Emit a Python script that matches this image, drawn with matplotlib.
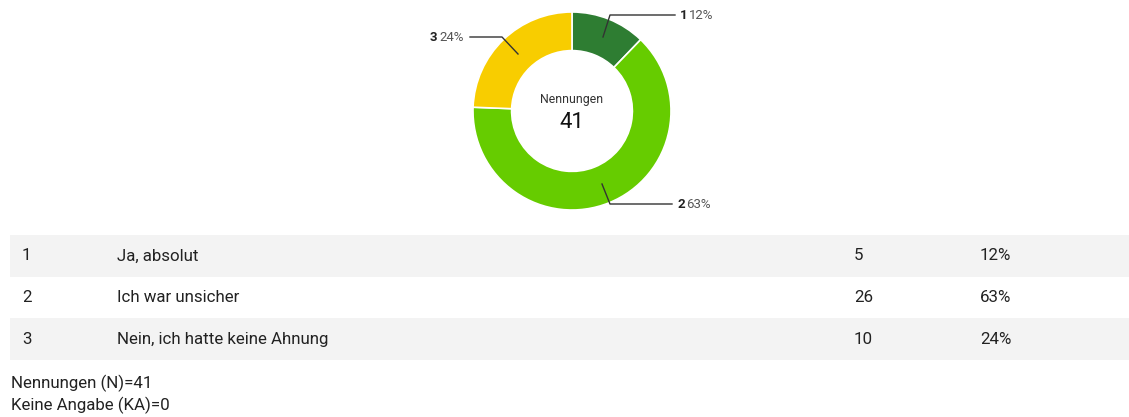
import matplotlib.pyplot as plt

# data
codes = ['1', '2', '3']
answers = ['Ja, absolut', 'Ich war unsicher', 'Nein, ich hatte keine Ahnung']
counts = [5, 26, 10]
percents = ['12%', '63%', '24%']
colors = ['#2e7d32', '#66cc00', '#f8cd00']
n_total = 41
n_none = 0

plt.rcParams['font.family'] = ['Roboto', 'DejaVu Sans']

W, H = 1129, 417
fig = plt.figure(figsize=(W / 100, H / 100), dpi=100)

# background axes in pixel coordinates
bg = fig.add_axes([0, 0, 1, 1])
bg.set_xlim(0, W)
bg.set_ylim(H, 0)
bg.axis('off')

# donut
cx, cy, r = 572, 111, 99
pie_ax = fig.add_axes([(cx - r) / W, 1 - (cy + r) / H, 2 * r / W, 2 * r / H])
wedges, _ = pie_ax.pie(counts, colors=colors, startangle=90, counterclock=False,
                       radius=1, wedgeprops=dict(width=0.39, edgecolor='white', linewidth=1.2))
pie_ax.set_xlim(-1, 1)
pie_ax.set_ylim(-1, 1)
pie_ax.set_aspect('equal')
pie_ax.axis('off')

pie_ax.text(0, 0.12, 'Nennungen', ha='center', va='center', fontsize=8.8, color='#333333')
pie_ax.text(0, -0.12, str(n_total), ha='center', va='center', fontsize=16, color='#111111')

# overlay for leader lines (on top of the donut)
top = fig.add_axes([0, 0, 1, 1])
top.set_xlim(0, W)
top.set_ylim(H, 0)
top.axis('off')

leaders = [
    [(603, 37), (610, 15), (675, 15)],
    [(602, 184), (610, 204), (672, 204)],
    [(518, 54), (502, 37), (470, 37)],
]
label_pos = [(680, 15), (677, 204), (430, 37)]
for i, pts in enumerate(leaders):
    xs = [p[0] for p in pts]
    ys = [p[1] for p in pts]
    top.plot(xs, ys, color='#333333', lw=1.0)
    x, y = label_pos[i]
    top.text(x, y, codes[i], ha='left', va='center', fontsize=9.5, fontweight='bold', color='#222222')
    top.text(x + 9, y, percents[i], ha='left', va='center', fontsize=9.5, color='#555555')

# table
row_top = 235
row_h = 41.7
for i in range(len(codes)):
    y0 = row_top + i * row_h
    if i % 2 == 0:
        bg.add_patch(plt.Rectangle((10, y0), W - 10, row_h, color='#f3f3f3', lw=0, zorder=0))
    yc = y0 + row_h / 2
    bg.text(22, yc, codes[i], ha='left', va='center', fontsize=12.2, color='#222222')
    bg.text(117, yc, answers[i], ha='left', va='center', fontsize=12.2, color='#222222')
    bg.text(854, yc, str(counts[i]), ha='left', va='center', fontsize=12.2, color='#222222')
    bg.text(980, yc, percents[i], ha='left', va='center', fontsize=12.2, color='#222222')

bg.text(11, 383, 'Nennungen (N)=%d' % n_total, ha='left', va='center', fontsize=12.2, color='#222222')
bg.text(11, 405, 'Keine Angabe (KA)=%d' % n_none, ha='left', va='center', fontsize=12.2, color='#222222')

fig.savefig('out.png', dpi=100, facecolor='white')
